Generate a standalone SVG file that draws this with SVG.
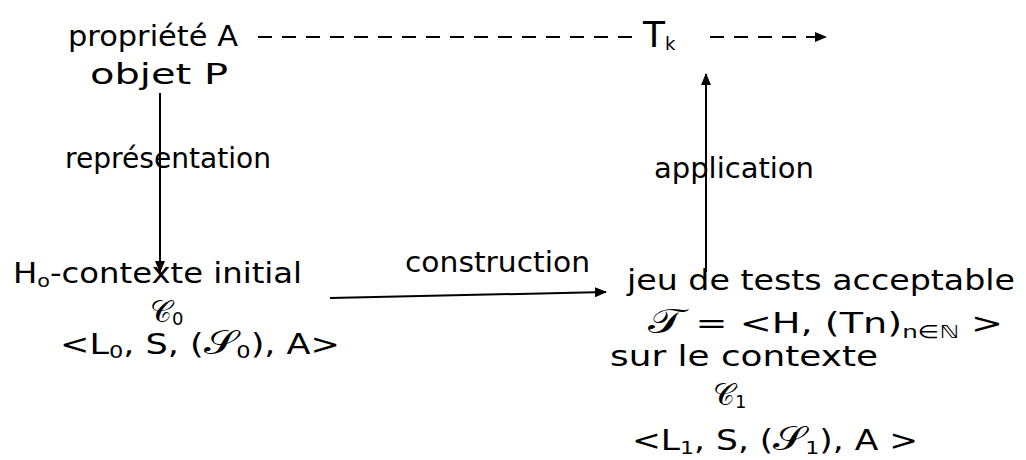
<svg xmlns="http://www.w3.org/2000/svg" width="1026" height="460" viewBox="0 0 1026 460">
<defs>
<marker id="ah" viewBox="0 0 12 10" refX="11" refY="5" markerWidth="12" markerHeight="10" markerUnits="userSpaceOnUse" orient="auto">
<path d="M0,0 L12,5 L0,10 Z" fill="#000"/>
</marker>
</defs>
<style>
text{font-family:"DejaVu Sans","Liberation Sans",sans-serif;fill:#000;font-size:28px}
.ln{stroke:#000;stroke-width:2;fill:none}
.dash{stroke-dasharray:14 10}
.sub{font-size:18px}
.scr{font-size:34px}
</style>
<rect width="1026" height="460" fill="#fff"/>
<g id="connectors">
<line class="ln dash" x1="258" y1="37" x2="638" y2="37"/>
<line class="ln dash" x1="710" y1="37" x2="826" y2="37" marker-end="url(#ah)"/>
<line class="ln" x1="160" y1="93" x2="160" y2="272" marker-end="url(#ah)"/>
<line class="ln" x1="330" y1="298" x2="606" y2="292" marker-end="url(#ah)"/>
<line class="ln" x1="706" y1="272" x2="706" y2="74" marker-end="url(#ah)"/>
<text x="65" y="168" textLength="206" lengthAdjust="spacingAndGlyphs">représentation</text>
<text x="654" y="178" textLength="160" lengthAdjust="spacingAndGlyphs">application</text>
<text x="405" y="272" textLength="185" lengthAdjust="spacingAndGlyphs">construction</text>
</g>
<g id="n-propriete">
<text x="68" y="46" textLength="170" lengthAdjust="spacingAndGlyphs">propriété A</text>
<text x="90" y="84" textLength="138" lengthAdjust="spacingAndGlyphs">objet P</text>
</g>
<g id="n-tk">
<text x="643" y="47" style="font-size:36px">T<tspan class="sub" dy="3">k</tspan></text>
</g>
<g id="n-h0">
<text x="13" y="283" textLength="289" lengthAdjust="spacingAndGlyphs">H<tspan class="sub" dy="4">o</tspan><tspan dy="-4">-contexte initial</tspan></text>
<text x="150" y="322" style="font-size:22px"><tspan style="font-size:30px">𝒞</tspan><tspan class="sub" dy="3">0</tspan></text>
<text x="60" y="354" textLength="280" lengthAdjust="spacingAndGlyphs">&lt;L<tspan class="sub" dy="4">0</tspan><tspan dy="-4">, S, (</tspan><tspan class="scr">𝒮</tspan><tspan class="sub" dy="4">0</tspan><tspan dy="-4">), A&gt;</tspan></text>
</g>
<g id="n-jeu">
<text x="627" y="290" textLength="388" lengthAdjust="spacingAndGlyphs">jeu de tests  acceptable</text>
<text x="648" y="333" textLength="355" lengthAdjust="spacingAndGlyphs"><tspan class="scr">𝒯</tspan> = &lt;H, (Tn)<tspan class="sub" dy="5">n∈ℕ</tspan><tspan dy="-5"> &gt;</tspan></text>
<text x="610" y="366" textLength="268" lengthAdjust="spacingAndGlyphs">sur le contexte</text>
<text x="713" y="405" style="font-size:22px"><tspan style="font-size:30px">𝒞</tspan><tspan class="sub" dy="3">1</tspan></text>
<text x="632" y="450" textLength="286" lengthAdjust="spacingAndGlyphs">&lt;L<tspan class="sub" dy="4">1</tspan><tspan dy="-4">, S, (</tspan><tspan class="scr">𝒮</tspan><tspan class="sub" dy="4">1</tspan><tspan dy="-4">), A &gt;</tspan></text>
</g>
</svg>
